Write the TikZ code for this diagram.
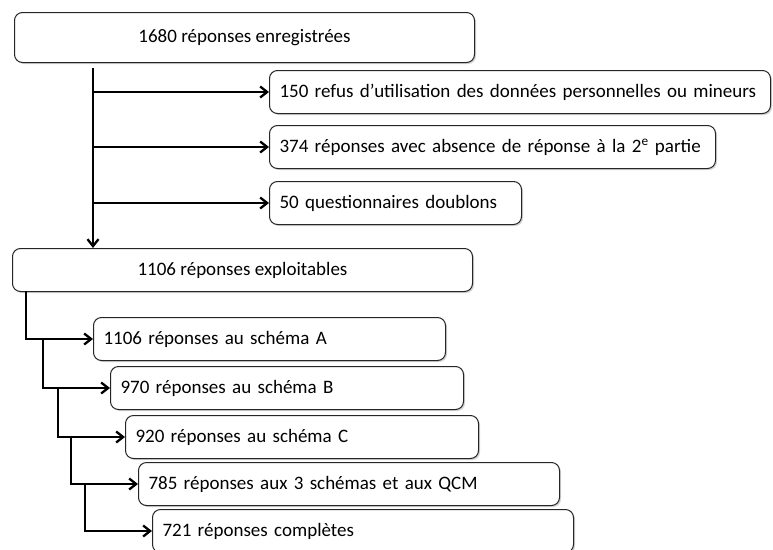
\documentclass[tikz,border=0pt]{standalone}
\usepackage{fontspec}
\setmainfont{Carlito}
\usetikzlibrary{positioning, arrows.meta, shadows}

\begin{document}
\begin{tikzpicture}[x=1pt, y=-1pt,
                    >={Straight Barb[length=7pt,width=11pt]},
                    boite/.style = {draw=black!85, fill=white, rounded corners=8pt, line width=1pt,
                                    font=\fontsize{19}{23}\selectfont, minimum height=43pt, anchor=north west,
                                    drop shadow={shadow xshift=1.5pt, shadow yshift=-1.5pt, opacity=0.35}},
                    total/.style = {boite, minimum width=460pt, align=center},
                    tri/.style = {boite, text width=#1, align=left, inner xsep=10pt},
                    link/.style = {draw, ->, line width=2.3pt}]
                \useasboundingbox (0,0) rectangle (773,549);
                \node (rec) [total, minimum height=50pt] at (14,12) {1680 réponses enregistrées};
                \node (refus) [tri=481pt] at (269,70)  {150 refus d’utilisation des données personnelles ou mineurs};
                \node (vide)  [tri=426pt] at (269,125) {374 réponses avec absence de réponse à la 2\textsuperscript{e} partie};
                \node (doubl) [tri=232pt] at (269,181) {50 questionnaires doublons};
                \node (expl)  [total] at (12,248) {1106 réponses exploitables};
                \node (schA)  [tri=332pt] at (93,317)  {1106 réponses au schéma A};
                \node (schB)  [tri=333pt] at (110,366) {970 réponses au schéma B};
                \node (schC)  [tri=333pt] at (125,415) {920 réponses au schéma C};
                \node (trois) [tri=401pt] at (138,462) {785 réponses aux 3 schémas et aux QCM};
                \node (compl) [tri=401pt] at (152,509) {721 réponses complètes};
                % tri des questionnaires
                \coordinate (haut) at (93,68);
                \draw[link] (haut) -- (haut |- expl.north);
                \draw[link] (haut |- refus.west) -- (refus.west);
                \draw[link] (haut |- vide.west)  -- (vide.west);
                \draw[link] (haut |- doubl.west) -- (doubl.west);
                % reponses exploitables
                \coordinate (k0) at (26,291);
                \coordinate (k1) at (43,0);
                \coordinate (k2) at (58,0);
                \coordinate (k3) at (71,0);
                \coordinate (k4) at (85,0);
                \draw[link] (k0) |- (schA.west);
                \draw[link] (k1 |- schA.west) |- (schB.west);
                \draw[link] (k2 |- schB.west) |- (schC.west);
                \draw[link] (k3 |- schC.west) |- (trois.west);
                \draw[link] (k4 |- trois.west) |- (compl.west);
            \end{tikzpicture}
\end{document}
